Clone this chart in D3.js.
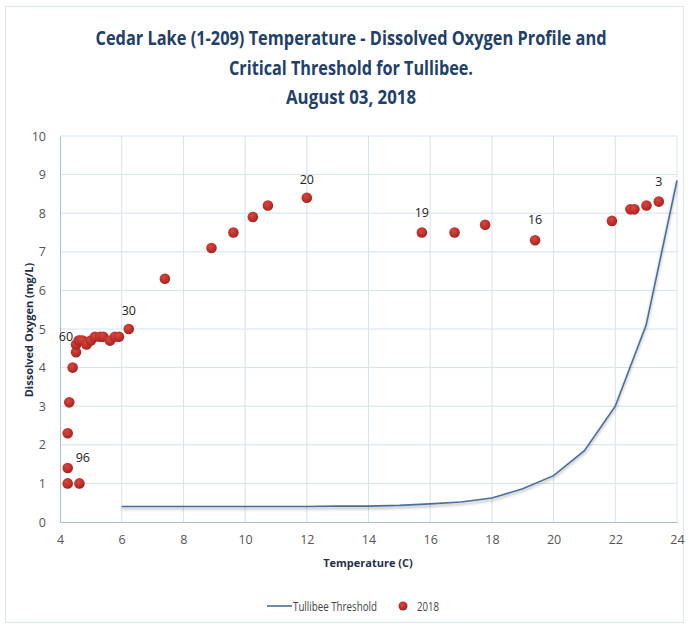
<!DOCTYPE html>
<html>
<head>
<meta charset="utf-8">
<script src="https://cdn.jsdelivr.net/npm/d3@7"></script>
<style>
  body { margin: 0; background: #fff; }
  text { font-family: "Open Sans", "Liberation Sans", sans-serif; }
</style>
</head>
<body>
<div id="mainChart"></div>
<script>
const width = 689;
const height = 629;
const marginTop = 136;
const marginRight = 12;
const marginBottom = 107;
const marginLeft = 60;

const titleLines = [
    "Cedar Lake (1-209) Temperature - Dissolved Oxygen Profile and",
    "Critical Threshold for Tullibee.",
    "August 03, 2018"
];

// 2018 profile readings
const temps = [4.25, 4.63, 4.25, 4.25, 4.30, 4.41, 4.52, 4.52, 4.60, 4.65, 4.73, 4.86, 5.0, 5.13, 5.30, 5.40, 5.62, 5.78, 5.91,
    6.23, 7.40, 8.91, 9.62, 10.25, 10.74, 12.0, 15.73, 16.79, 17.78, 19.40, 21.89, 22.49, 22.62, 23.01, 23.41];
const oxygen = [1.0, 1.0, 1.4, 2.3, 3.1, 4.0, 4.4, 4.6, 4.7, 4.7, 4.7, 4.6, 4.7, 4.8, 4.8, 4.8, 4.7, 4.8, 4.8,
    5.0, 6.3, 7.1, 7.5, 7.9, 8.2, 8.4, 7.5, 7.5, 7.7, 7.3, 7.8, 8.1, 8.1, 8.2, 8.3];

// data labels: point index and text
const labelIndex = [2, 7, 19, 25, 26, 29, 34];
const labelText = ["96", "60", "30", "20", "19", "16", "3"];

// Tullibee threshold curve
const threshTemps = [6, 7, 8, 9, 10, 11, 12, 13, 14, 15, 16, 17, 18, 19, 20, 21, 22, 23, 24];
const threshDO = [0.4, 0.4, 0.4, 0.4, 0.4, 0.4, 0.4, 0.41, 0.41, 0.43, 0.47, 0.52, 0.62, 0.86, 1.2, 1.85, 3.0, 5.1, 8.85];

const xTicks = [4, 6, 8, 10, 12, 14, 16, 18, 20, 22, 24];
const yTicks = [0, 1, 2, 3, 4, 5, 6, 7, 8, 9, 10];

const xScale = d3.scaleLinear()
    .domain([4, 24])
    .range([marginLeft, width - marginRight]);

const yScale = d3.scaleLinear()
    .domain([0, 10])
    .range([height - marginBottom, marginTop]);

const svg = d3.create("svg")
    .attr("width", width)
    .attr("height", height);

const defs = svg.append("defs");
const grad = defs.append("radialGradient")
    .attr("id", "dotGrad")
    .attr("cx", "40%").attr("cy", "35%").attr("r", "65%");
grad.append("stop").attr("offset", "0%").attr("stop-color", "#d9473f");
grad.append("stop").attr("offset", "100%").attr("stop-color", "#a8231f");

const shadow = defs.append("filter").attr("id", "lineShadow")
    .attr("x", "-5%").attr("y", "-5%").attr("width", "110%").attr("height", "120%");
shadow.append("feGaussianBlur").attr("in", "SourceAlpha").attr("stdDeviation", 1.5);
shadow.append("feOffset").attr("dy", 2).attr("result", "b");
shadow.append("feComponentTransfer").append("feFuncA").attr("type", "linear").attr("slope", 0.35);
const merge = shadow.append("feMerge");
merge.append("feMergeNode");
merge.append("feMergeNode").attr("in", "SourceGraphic");

// outer border
svg.append("rect")
    .attr("x", 5.5).attr("y", 6.5)
    .attr("width", width - 11).attr("height", height - 13)
    .attr("fill", "none")
    .attr("stroke", "#dce6f0");

svg.append("g")
    .selectAll("text")
    .data(titleLines)
    .join("text")
    .attr("x", 351)
    .attr("y", (d, i) => 45 + i * 29.5)
    .attr("text-anchor", "middle")
    .attr("fill", "#21406a")
    .attr("font-size", 19)
    .attr("font-weight", "bold")
    .attr("textLength", (d, i) => [511, 244, 130][i])
    .attr("lengthAdjust", "spacingAndGlyphs")
    .text(d => d);

// grid
svg.append("g")
    .selectAll("line")
    .data(xTicks.slice(1))
    .join("line")
    .attr("x1", d => xScale(d)).attr("x2", d => xScale(d))
    .attr("y1", yScale(10)).attr("y2", yScale(0))
    .attr("stroke", "#d5e2ef");

svg.append("g")
    .selectAll("line")
    .data(yTicks.slice(1))
    .join("line")
    .attr("x1", xScale(4)).attr("x2", xScale(24))
    .attr("y1", d => yScale(d)).attr("y2", d => yScale(d))
    .attr("stroke", "#d5e2ef");

const xAxis = svg.append("g")
    .attr("transform", `translate(0,${yScale(0)})`)
    .call(d3.axisBottom(xScale).tickValues(xTicks).tickSize(0).tickPadding(13));
xAxis.select(".domain").attr("stroke", "#a9bdd3");
xAxis.selectAll("text").attr("font-size", 12.5).attr("fill", "#555");

const yAxis = svg.append("g")
    .attr("transform", `translate(${xScale(4)},0)`)
    .call(d3.axisLeft(yScale).tickValues(yTicks).tickSize(0).tickPadding(14));
yAxis.select(".domain").attr("stroke", "#a9bdd3");
yAxis.selectAll("text").attr("font-size", 12.5).attr("fill", "#555");

svg.append("text")
    .attr("text-anchor", "middle")
    .attr("x", 368)
    .attr("y", 567)
    .attr("font-size", 11)
    .attr("font-weight", "bold")
    .attr("fill", "#1f2f4a")
    .text("Temperature (C)");

svg.append("text")
    .attr("text-anchor", "middle")
    .attr("transform", `rotate(-90)`)
    .attr("x", -330)
    .attr("y", 33)
    .attr("font-size", 11)
    .attr("font-weight", "bold")
    .attr("fill", "#1f2f4a")
    .text("Dissolved Oxygen (mg/L)");

const line = d3.line()
    .x((d, i) => xScale(threshTemps[i]))
    .y(d => yScale(d));

svg.append("path")
    .datum(threshDO)
    .attr("fill", "none")
    .attr("stroke", "#4a6e9c")
    .attr("stroke-width", 1.6)
    .attr("filter", "url(#lineShadow)")
    .attr("d", line);

svg.append("g")
    .selectAll("circle")
    .data(temps)
    .join("circle")
    .attr("cx", d => xScale(d))
    .attr("cy", (d, i) => yScale(oxygen[i]))
    .attr("r", 5.3)
    .attr("fill", "url(#dotGrad)");

const labelPos = { "96": [8, -6, "start"], "60": [-3, -3, "end"], "30": [0, -14, "middle"], "20": [0, -14, "middle"],
    "19": [0, -16, "middle"], "16": [0, -16, "middle"], "3": [0, -16, "middle"] };

svg.append("g")
    .selectAll("text")
    .data(labelIndex)
    .join("text")
    .attr("x", (d, i) => xScale(temps[d]) + labelPos[labelText[i]][0])
    .attr("y", (d, i) => yScale(oxygen[d]) + labelPos[labelText[i]][1])
    .attr("text-anchor", (d, i) => labelPos[labelText[i]][2])
    .attr("font-size", 12.5)
    .attr("fill", "#222")
    .text((d, i) => labelText[i]);

// legend
const legend = svg.append("g").attr("transform", "translate(0,606)");
legend.append("line")
    .attr("x1", 267).attr("x2", 292)
    .attr("stroke", "#4a6e9c").attr("stroke-width", 1.6);
legend.append("text")
    .attr("x", 293).attr("y", 4.5)
    .attr("font-size", 12.5).attr("fill", "#444")
    .attr("textLength", 84)
    .attr("lengthAdjust", "spacingAndGlyphs")
    .text("Tullibee Threshold");
legend.append("circle")
    .attr("cx", 403).attr("cy", 0).attr("r", 4.5)
    .attr("fill", "url(#dotGrad)");
legend.append("text")
    .attr("x", 417).attr("y", 4.5)
    .attr("font-size", 12.5).attr("fill", "#444")
    .attr("textLength", 22)
    .attr("lengthAdjust", "spacingAndGlyphs")
    .text("2018");

mainChart.append(svg.node());
</script>
</body>
</html>
